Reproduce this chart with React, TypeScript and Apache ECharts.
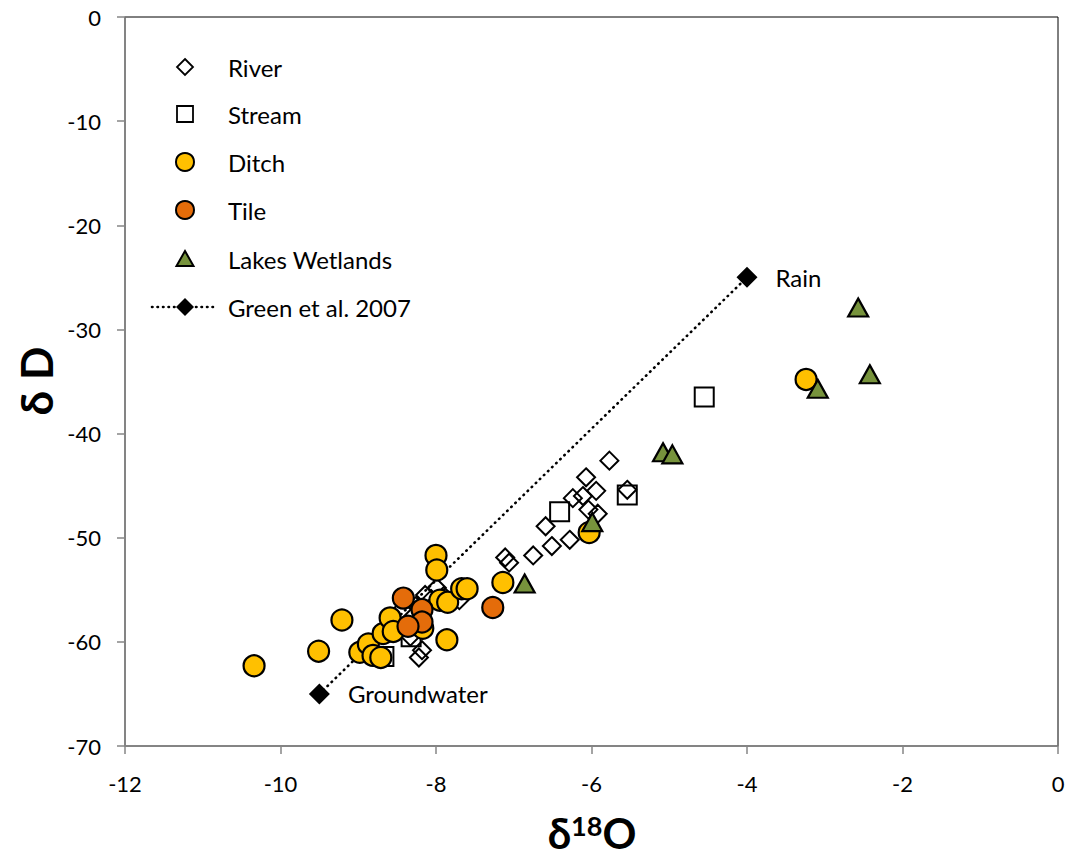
import React, { useEffect, useRef } from "react";
import * as echarts from "echarts";

// δ18O / δD sample values by water type
const riverPoints: [number, number][] = [
  [-5.77, -42.6], [-6.07, -44.2], [-5.94, -45.5], [-5.54, -45.4], [-6.24, -46.2],
  [-6.11, -46.0], [-6.04, -47.3], [-5.92, -47.7], [-6.59, -48.9], [-6.51, -50.8],
  [-6.28, -50.2], [-6.75, -51.7], [-7.11, -51.9], [-7.06, -52.4], [-7.99, -54.8],
  [-8.14, -55.5], [-8.06, -55.9], [-7.70, -56.0], [-8.44, -56.9], [-8.33, -59.5],
  [-8.18, -60.8], [-8.22, -61.5], [-8.25, -56.5], [-7.90, -55.6],
];
const streamPoints: [number, number][] = [
  [-8.67, -61.4], [-6.41, -47.5], [-5.54, -45.9], [-4.55, -36.5], [-8.32, -59.5],
];
const ditchPoints: [number, number][] = [
  [-10.34, -62.3], [-9.51, -60.9], [-9.21, -57.9], [-8.98, -61.0], [-8.87, -60.2],
  [-8.81, -61.3], [-8.71, -61.5], [-8.68, -59.2], [-8.59, -57.7], [-8.55, -59.0],
  [-8.17, -58.7], [-8.0, -51.7], [-7.99, -53.1], [-7.95, -56.0], [-7.85, -56.2],
  [-7.86, -59.8], [-7.67, -54.9], [-7.6, -54.9], [-7.14, -54.3], [-6.03, -49.5],
  [-3.24, -34.8],
];
const tilePoints: [number, number][] = [
  [-8.42, -55.8], [-8.18, -56.9], [-8.18, -58.1], [-8.36, -58.5], [-7.27, -56.7],
];
const lakePoints: [number, number][] = [
  [-2.57, -27.9], [-2.42, -34.3], [-3.09, -35.7], [-5.08, -41.8], [-4.96, -42.0],
  [-5.99, -48.5], [-6.86, -54.4],
];
// Green et al. 2007 end members
const greenPoints: [number, number][] = [[-9.5, -65], [-4, -25]];
const greenLabels = ["Groundwater", "Rain"];

const xTicks = { min: -12, max: 0, interval: 2 };
const yTicks = { min: -70, max: 0, interval: 10 };

const legendNames = ["River", "Stream", "Ditch", "Tile", "Lakes Wetlands", "Green et al. 2007"];

const FONT = "Lato, 'Open Sans', sans-serif";
const DITCH = "#FFC000";
const TILE = "#E46C0A";
const LAKE = "#77933C";

export default function App() {
  const ref = useRef<HTMLDivElement>(null);

  useEffect(() => {
    document.body.style.margin = "0";
    if (!ref.current) return;
    const chart = echarts.init(ref.current, undefined, { renderer: "svg" });

    const hollow = { color: "rgba(0,0,0,0)", borderColor: "#000", borderWidth: 2, opacity: 1 };
    const filled = (c: string) => ({ color: c, borderColor: "#000", borderWidth: 2.2, opacity: 1 });

    // legend drawn as graphic rows
    const rowY = [67, 114, 162, 210, 259, 307];
    const iconX = 185;
    const textX = 228;
    const legendGraphics: any[] = [
      { type: "polygon", shape: { points: [[iconX, rowY[0] - 8], [iconX + 8, rowY[0]], [iconX, rowY[0] + 8], [iconX - 8, rowY[0]]] }, style: { fill: "#fff", stroke: "#000", lineWidth: 1.8 } },
      { type: "rect", shape: { x: iconX - 8, y: rowY[1] - 8, width: 16, height: 16 }, style: { fill: "#fff", stroke: "#000", lineWidth: 1.8 } },
      { type: "circle", shape: { cx: iconX, cy: rowY[2], r: 9 }, style: { fill: DITCH, stroke: "#000", lineWidth: 2 } },
      { type: "circle", shape: { cx: iconX, cy: rowY[3], r: 9 }, style: { fill: TILE, stroke: "#000", lineWidth: 2 } },
      { type: "polygon", shape: { points: [[iconX, rowY[4] - 8], [iconX + 8.5, rowY[4] + 7], [iconX - 8.5, rowY[4] + 7]] }, style: { fill: LAKE, stroke: "#000", lineWidth: 2 } },
      { type: "line", shape: { x1: 152, y1: rowY[5], x2: 218, y2: rowY[5] }, style: { stroke: "#000", lineWidth: 2.6, lineDash: [0.5, 5], lineCap: "round" } },
      { type: "polygon", shape: { points: [[iconX, rowY[5] - 9], [iconX + 9, rowY[5]], [iconX, rowY[5] + 9], [iconX - 9, rowY[5]]] }, style: { fill: "#000" } },
      ...legendNames.map((n, i) => ({
        type: "text",
        x: textX,
        y: rowY[i],
        style: { text: n, font: `24px ${FONT}`, fill: "#000", verticalAlign: "middle" },
      })),
    ];

    chart.setOption({
      animation: false,
      backgroundColor: "#fff",
      grid: {
        left: 125, right: 12, top: 17, bottom: 111,
        show: true, borderColor: "#000", borderWidth: 1,
        outerBoundsMode: "none",
      },
      xAxis: {
        type: "value",
        ...xTicks,
        axisLine: { show: true, onZero: false, lineStyle: { color: "#868686", width: 1.5 } },
        axisTick: { show: true, inside: false, length: 8, lineStyle: { color: "#868686", width: 1.5 } },
        axisLabel: { fontSize: 22, fontFamily: FONT, color: "#000", margin: 26 },
        splitLine: { show: false },
      },
      yAxis: {
        type: "value",
        ...yTicks,
        axisLine: { show: true, onZero: false, lineStyle: { color: "#868686", width: 1.5 } },
        axisTick: { show: true, inside: false, length: 8, lineStyle: { color: "#868686", width: 1.5 } },
        axisLabel: { fontSize: 22, fontFamily: FONT, color: "#000", margin: 24 },
        splitLine: { show: false },
      },
      series: [
        {
          name: "Green et al. 2007",
          type: "line",
          data: greenPoints.map((p, i) => ({
            value: p,
            label: {
              show: true,
              position: "right",
              distance: 18,
              formatter: greenLabels[i],
              fontSize: 24,
              fontFamily: FONT,
              color: "#000",
            },
          })),
          symbol: "diamond",
          symbolSize: 21,
          showAllSymbol: true,
          lineStyle: { color: "#000", width: 2.6, type: [0.5, 5.2], cap: "round" },
          itemStyle: { color: "#000", opacity: 1 },
          z: 1,
        },
        { name: "River", type: "scatter", data: riverPoints, symbol: "diamond", symbolSize: 18, itemStyle: hollow, z: 2 },
        { name: "Stream", type: "scatter", data: streamPoints, symbol: "rect", symbolSize: 19, itemStyle: hollow, z: 2 },
        { name: "Ditch", type: "scatter", data: ditchPoints, symbol: "circle", symbolSize: 21, itemStyle: filled(DITCH), z: 2 },
        { name: "Tile", type: "scatter", data: tilePoints, symbol: "circle", symbolSize: 21, itemStyle: filled(TILE), z: 2 },
        { name: "Lakes Wetlands", type: "scatter", data: lakePoints, symbol: "triangle", symbolSize: [20, 18], itemStyle: filled(LAKE), z: 2 },
      ],
      graphic: [
        ...legendGraphics,
        {
          type: "text",
          x: 36,
          y: 381,
          rotation: Math.PI / 2,
          style: { text: "δ D", font: `bold 44px ${FONT}`, fill: "#000", align: "center", verticalAlign: "middle" },
        },
        {
          type: "text",
          x: 592,
          y: 833,
          style: {
            text: "{d|δ}{s|18}{o|O}",
            align: "center",
            verticalAlign: "middle",
            rich: {
              d: { font: `bold 42px ${FONT}`, fill: "#000", verticalAlign: "bottom" },
              s: { font: `bold 27px ${FONT}`, fill: "#000", verticalAlign: "top", padding: [0, 0, 13, 0] },
              o: { font: `bold 42px ${FONT}`, fill: "#000", verticalAlign: "bottom" },
            },
          },
        },
      ],
    });

    return () => chart.dispose();
  }, []);

  return <div ref={ref} style={{ width: 1070, height: 857 }} />;
}
